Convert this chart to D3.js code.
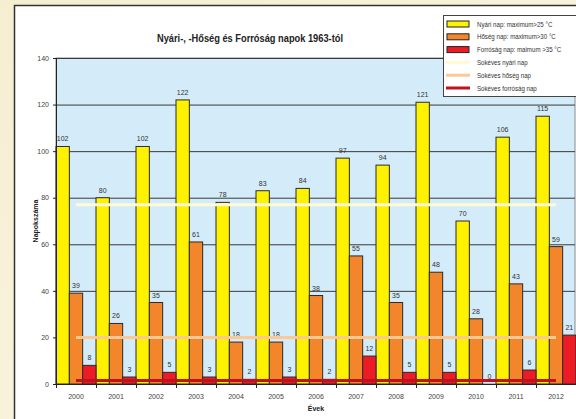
<!DOCTYPE html>
<html>
<head>
<meta charset="utf-8">
<script src="https://cdn.jsdelivr.net/npm/d3@7"></script>
<style>
  body { margin: 0; background: #fff; }
  text { font-family: "Liberation Sans", Arial, sans-serif; }
</style>
</head>
<body>
<script>
// Data
const years = ['2000','2001','2002','2003','2004','2005','2006','2007','2008','2009','2010','2011','2012']
const nyari = [102, 80, 102, 122, 78, 83, 84, 97, 94, 121, 70, 106, 115]
const hoseg = [39, 26, 35, 61, 18, 18, 38, 55, 35, 48, 28, 43, 59]
const forrosag = [8, 3, 5, 3, 2, 3, 2, 12, 5, 5, 0, 6, 21]
const avgNyari = 77
const avgHoseg = 20
const avgForrosag = 1.5
const yTicks = [0, 20, 40, 60, 80, 100, 120, 140]

const seriesNames = ['Nyári nap: maximum>25 °C', 'Hőség nap: maximum>30 °C', 'Forróság nap: maimum >35 °C']
const avgNames = ['Sokéves nyári nap', 'Sokéves hőség nap', 'Sokéves forróság nap']
const barColors = ['#fff200', '#f3862a', '#ed1c24']
const avgColors = ['#fffbd6', '#fcc896', '#c0121c']

const w = 576
const h = 419
const m = { left: 56, right: 576, top: 58, bottom: 384 }

const svg = d3.select('body').append('svg')
  .attr('width', w)
  .attr('height', h)

// background
const defs = svg.append('defs')
const grad = defs.append('linearGradient').attr('id', 'bg').attr('x1', 0).attr('y1', 0).attr('x2', 1).attr('y2', 1)
grad.append('stop').attr('offset', '0%').attr('stop-color', '#f6eed0')
grad.append('stop').attr('offset', '100%').attr('stop-color', '#fbf7e6')
svg.append('rect').attr('width', w).attr('height', h).attr('fill', 'url(#bg)')
svg.append('rect')
  .attr('x', 14.5).attr('y', 5.5).attr('width', w).attr('height', h)
  .attr('fill', '#fff').attr('stroke', '#333').attr('stroke-width', 1.5)

// scales
const x = d3.scaleBand().domain(years).range([m.left, m.right]).padding(0)
const xs = d3.scaleBand().domain([0, 1, 2]).range([0, x.bandwidth()]).padding(0)
const y = d3.scaleLinear().domain([0, 140]).range([m.bottom, m.top])

// plot area
svg.append('rect')
  .attr('x', m.left).attr('y', m.top)
  .attr('width', m.right - m.left - 1).attr('height', m.bottom - m.top)
  .attr('fill', '#d4ecf9').attr('stroke', '#8a8a8a')

// grid
svg.append('g').selectAll('line')
  .data(yTicks.filter(d => d > 0))
  .enter().append('line')
  .attr('x1', m.left).attr('x2', m.right - 1)
  .attr('y1', d => y(d) + 0.5).attr('y2', d => y(d) + 0.5)
  .attr('stroke', '#3a3a3a').attr('stroke-width', 1)

// bars
const groups = [nyari, hoseg, forrosag]
groups.forEach((vals, si) => {
  svg.append('g').selectAll('rect')
    .data(vals)
    .enter().append('rect')
    .attr('x', (d, i) => x(years[i]) + xs(si))
    .attr('y', d => y(d))
    .attr('width', xs.bandwidth())
    .attr('height', d => y(0) - y(d))
    .attr('fill', barColors[si])
    .attr('stroke', '#2b2b2b')
    .attr('stroke-width', 1)

  svg.append('g').selectAll('text')
    .data(vals)
    .enter().append('text')
    .attr('x', (d, i) => x(years[i]) + xs(si) + xs.bandwidth() / 2)
    .attr('y', d => y(d) - 5)
    .attr('text-anchor', 'middle')
    .attr('font-size', '7px')
    .attr('fill', '#333')
    .text(d => d)
})

// long-term average lines
const avgs = [avgNyari, avgHoseg, avgForrosag]
svg.append('g').selectAll('line')
  .data(avgs)
  .enter().append('line')
  .attr('x1', x(years[0]) + x.bandwidth() / 2)
  .attr('x2', x(years[years.length - 1]) + x.bandwidth() / 2)
  .attr('y1', d => y(d)).attr('y2', d => y(d))
  .attr('stroke', (d, i) => avgColors[i])
  .attr('stroke-width', 3)

// axes
const yAxis = svg.append('g')
  .attr('transform', `translate(${m.left},0)`)
  .call(d3.axisLeft(y).tickValues(yTicks).tickSize(3).tickPadding(4))
yAxis.select('.domain').attr('stroke', '#222')
yAxis.selectAll('line').attr('stroke', '#222')
yAxis.selectAll('text').attr('font-size', '7px').attr('fill', '#444')
  .attr('font-family', '"Liberation Sans", Arial, sans-serif')

const xAxis = svg.append('g')
  .attr('transform', `translate(0,${m.bottom})`)
  .call(d3.axisBottom(x).tickSize(0).tickPadding(10))
xAxis.select('.domain').attr('stroke', '#222').attr('stroke-width', 1.2)
xAxis.selectAll('text').attr('font-size', '7px').attr('fill', '#444')
  .attr('font-family', '"Liberation Sans", Arial, sans-serif')
svg.append('g').selectAll('line')
  .data(years)
  .enter().append('line')
  .attr('x1', d => x(d) + 0.5).attr('x2', d => x(d) + 0.5)
  .attr('y1', m.bottom).attr('y2', m.bottom + 4)
  .attr('stroke', '#222')

// titles
svg.append('text')
  .attr('x', 250).attr('y', 42)
  .attr('text-anchor', 'middle')
  .attr('font-size', '11.5px').attr('font-weight', 'bold').attr('fill', '#222')
  .attr('textLength', 186).attr('lengthAdjust', 'spacingAndGlyphs')
  .text('Nyári-, -Hőség és Forróság napok 1963-tól')

svg.append('text')
  .attr('transform', `translate(38,${(m.top + m.bottom) / 2}) rotate(-90)`)
  .attr('text-anchor', 'middle')
  .attr('font-size', '7px').attr('font-weight', 'bold').attr('fill', '#222')
  .text('Napokszáma')

svg.append('text')
  .attr('x', (m.left + m.right) / 2).attr('y', 411)
  .attr('text-anchor', 'middle')
  .attr('font-size', '7px').attr('font-weight', 'bold').attr('fill', '#222')
  .text('Évek')

// legend
const lg = svg.append('g').attr('transform', 'translate(443,15)')
lg.append('rect').attr('x', 0.5).attr('y', 0.5).attr('width', 140).attr('height', 81)
  .attr('fill', '#fff').attr('stroke', '#444')
const rowY = i => 9 + i * 12.8
const legendText = (i, name) => lg.append('text')
  .attr('transform', `translate(34,${rowY(i) + 2.5}) scale(0.88,1)`)
  .attr('font-size', '7px').attr('fill', '#333')
  .text(name)
seriesNames.forEach((name, i) => {
  lg.append('rect')
    .attr('x', 4).attr('y', rowY(i) - 3)
    .attr('width', 22).attr('height', 6)
    .attr('fill', barColors[i]).attr('stroke', '#222').attr('stroke-width', 1)
  legendText(i, name)
})
avgNames.forEach((name, j) => {
  const i = j + 3
  lg.append('line')
    .attr('x1', 3).attr('x2', 27)
    .attr('y1', rowY(i)).attr('y2', rowY(i))
    .attr('stroke', avgColors[j]).attr('stroke-width', 3)
  legendText(i, name)
})
</script>
</body>
</html>
